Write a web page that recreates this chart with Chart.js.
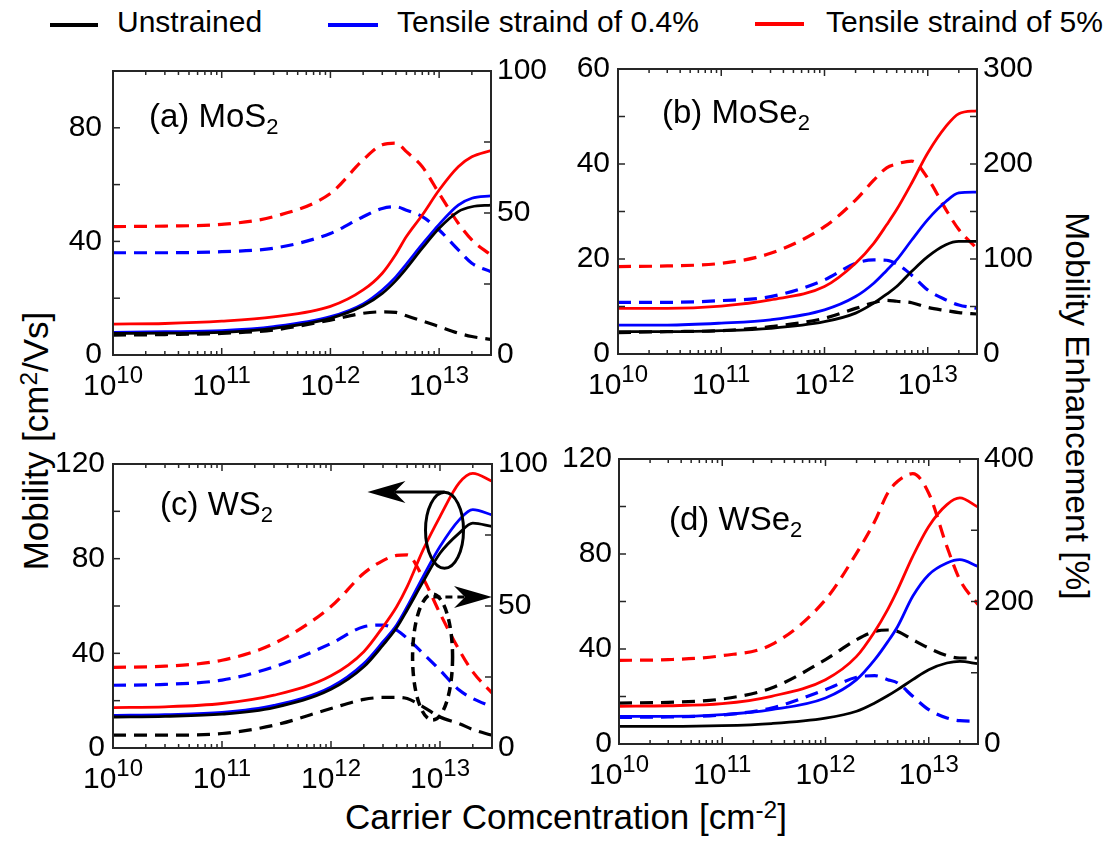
<!DOCTYPE html>
<html>
<head>
<meta charset="utf-8">
<script src="https://cdn.jsdelivr.net/npm/chart.js@4.4.1/dist/chart.umd.min.js"></script>
<style>
  body { margin: 0; background: #fff; }
  #page { position: relative; width: 1112px; height: 841px; overflow: hidden; background: #fff;
          font-family: "Liberation Sans", Arial, Helvetica, sans-serif; color: #000; }
  canvas { position: absolute; }
  .txt { position: absolute; white-space: nowrap; line-height: 1; }
  .sup { position: relative; top: -0.45em; font-size: 0.7em; }
  .swatch { position: absolute; height: 3.5px; }
</style>
</head>
<body>
<div id="page">
  <!-- legend -->
  <div class="swatch" style="left:50px; top:23px; width:48px; background:#000;"></div>
  <div class="txt" style="left:117px; top:7px; font-size:30px;">Unstrained</div>
  <div class="swatch" style="left:328px; top:23px; width:50px; background:#0000ff;"></div>
  <div class="txt" style="left:397px; top:7px; font-size:30px;">Tensile straind of 0.4%</div>
  <div class="swatch" style="left:755px; top:22px; width:49px; background:#ff0000;"></div>
  <div class="txt" style="left:826px; top:7px; font-size:30px;">Tensile straind of 5%</div>

  <!-- axis titles -->
  <div class="txt" style="left:35px; top:441px; font-size:35px; transform:translate(-50%,-50%) rotate(-90deg);">Mobility [cm<span class="sup">2</span>/Vs]</div>
  <div class="txt" style="left:1077px; top:406px; font-size:33.5px; transform:translate(-50%,-50%) rotate(90deg);">Mobility Enhancement [%]</div>
  <div class="txt" style="left:566px; top:816px; font-size:35px; transform:translate(-50%,-50%);">Carrier Comcentration [cm<span class="sup">-2</span>]</div>

  <canvas id="panelA"></canvas>
  <canvas id="panelB"></canvas>
  <canvas id="panelC"></canvas>
  <canvas id="panelD"></canvas>
</div>
<script>
// carrier concentration grid [cm^-2]
const concentration = [1e10, 3e10, 1e11, 3e11, 1e12, 2e12, 3e12, 4e12, 5e12, 7e12, 1e13, 1.5e13, 2e13, 3e13];
const decades = [1e10, 1e11, 1e12, 1e13];

// (a) MoS2 - mobility [cm2/Vs] and enhancement [%]
const mos2Unstrained = [7.6, 7.7, 8.0, 9.4, 12.9, 17.3, 21.7, 26.2, 30.5, 37.6, 44.6, 50.5, 52.2, 52.8];
const mos2Strain04 = [8.0, 8.2, 8.6, 10.0, 13.5, 18.0, 22.9, 27.5, 32.0, 39.0, 46.0, 52.8, 55.2, 56.0];
const mos2Strain5 = [10.9, 11.1, 11.9, 13.4, 17.1, 22.9, 28.8, 35.5, 41.7, 49.3, 58.1, 66.3, 69.8, 72.0];
const mos2EnhUnstrained = [7.0, 7.2, 7.6, 8.8, 12.3, 14.7, 15.2, 15.0, 13.8, 12.0, 10.0, 7.7, 6.5, 5.5];
const mos2EnhStrain04 = [36.0, 36.0, 36.4, 37.6, 42.8, 48.7, 51.6, 52.2, 51.0, 48.7, 44.0, 37.0, 32.3, 29.3];
const mos2EnhStrain5 = [45.2, 45.4, 46.0, 48.7, 56.9, 68.7, 74.0, 74.6, 71.6, 66.3, 56.9, 46.4, 40.5, 35.2];

// (b) MoSe2
const mose2Unstrained = [4.7, 4.7, 4.9, 5.4, 6.8, 8.6, 10.7, 12.6, 14.2, 17.4, 20.5, 23.0, 23.7, 23.7];
const mose2Strain04 = [6.1, 6.1, 6.5, 7.2, 9.3, 12.1, 14.9, 17.6, 19.8, 24.0, 28.3, 32.1, 33.9, 34.1];
const mose2Strain5 = [9.6, 9.6, 10.1, 11.4, 14.2, 19.1, 23.3, 27.2, 30.4, 36.0, 42.3, 47.9, 50.6, 51.2];
const mose2EnhUnstrained = [22.5, 23.5, 24.6, 28.8, 37.6, 48.0, 54.0, 56.5, 55.5, 54.0, 49.0, 45.7, 43.6, 42.1];
const mose2EnhStrain04 = [54.4, 54.4, 56.2, 60.4, 78.0, 95.5, 99.0, 98.7, 94.8, 83.0, 67.4, 57.0, 51.6, 48.1];
const mose2EnhStrain5 = [92.0, 92.7, 95.5, 106, 134, 162, 183, 196, 200, 203, 185, 152, 131, 111];

// (c) WS2
const ws2Unstrained = [13.1, 13.4, 14.3, 17.1, 24.8, 34.3, 43.5, 50.8, 58.3, 70.3, 82.3, 90.8, 95.0, 93.6];
const ws2Strain04 = [13.8, 14.1, 15.0, 18.0, 25.8, 35.7, 44.9, 52.0, 59.7, 72.4, 85.1, 96.4, 100.7, 98.5];
const ws2Strain5 = [17.1, 17.4, 18.8, 22.3, 30.5, 40.7, 51.2, 59.7, 68.2, 83.7, 97.8, 112.0, 116.0, 112.7];
const ws2EnhUnstrained = [4.5, 4.5, 5.1, 8.0, 13.9, 17.1, 17.8, 17.8, 17.4, 14.5, 10.9, 8.6, 6.5, 4.5];
const ws2EnhStrain04 = [22.1, 22.4, 23.9, 28.6, 36.8, 42.7, 43.3, 41.5, 38.6, 33.3, 27.4, 20.4, 17.4, 14.5];
const ws2EnhStrain5 = [28.4, 28.8, 30.9, 36.8, 49.8, 61.5, 66.0, 67.8, 68.0, 59.8, 47.4, 34.5, 26.8, 19.4];

// (d) WSe2
const wse2Unstrained = [7.4, 7.4, 7.7, 8.6, 10.9, 13.8, 17.3, 20.3, 22.9, 27.1, 31.3, 34.1, 34.8, 33.8];
const wse2Strain04 = [11.6, 11.6, 12.4, 14.5, 19.4, 27.1, 35.5, 43.0, 49.5, 62.2, 71.3, 76.2, 77.6, 74.8];
const wse2Strain5 = [15.9, 16.1, 17.0, 20.1, 27.1, 36.9, 47.4, 56.6, 65.0, 79.0, 91.6, 100.8, 103.6, 99.8];
const wse2EnhUnstrained = [57.5, 58.5, 63.2, 78.6, 118.4, 146.4, 158, 160, 158, 146.4, 134.7, 124, 120.7, 120.7];
const wse2EnhStrain04 = [37.4, 37.9, 40.7, 50.5, 76.3, 93.6, 95.9, 90.3, 85.6, 66.9, 48.2, 36.5, 32.7, 31.8];
const wse2EnhStrain5 = [117.4, 118.4, 124, 139.4, 202.6, 268, 312.5, 352, 368.7, 379.4, 352, 277, 230.6, 195.6];

const FONT = '"Liberation Sans", Arial, Helvetica, sans-serif';
const BLACK = '#000000', BLUE = '#0000ff', RED = '#ff0000';
const AXIS_COLOR = '#262626';

function pts(values) {
  return concentration.map((c, i) => ({ x: c, y: values[i] }));
}

function curve(values, color, dashed) {
  return {
    data: pts(values),
    borderColor: color,
    borderWidth: dashed ? 3.2 : 2.8,
    borderDash: dashed ? [13, 8] : [],
    yAxisID: dashed ? 'yEnh' : 'yMob',
    pointRadius: 0,
    fill: false,
    cubicInterpolationMode: 'monotone',
  };
}

function arrowHead(ctx, tipX, tipY, dir) {
  // dir = -1 points left, +1 points right
  ctx.beginPath();
  ctx.moveTo(tipX, tipY);
  ctx.lineTo(tipX - dir * 38, tipY - 11);
  ctx.lineTo(tipX - dir * 27, tipY);
  ctx.lineTo(tipX - dir * 38, tipY + 11);
  ctx.closePath();
  ctx.fill();
}

// box, inward ticks, 10^n labels, panel label and annotations
const panelDecor = {
  id: 'panelDecor',
  afterDatasetsDraw(chart, args, opts) {
    const ctx = chart.ctx;
    const { left, right, top, bottom } = chart.chartArea;
    const xs = chart.scales.x, yl = chart.scales.yMob, yr = chart.scales.yEnh;
    const seg = (x1, y1, x2, y2) => { ctx.beginPath(); ctx.moveTo(x1, y1); ctx.lineTo(x2, y2); ctx.stroke(); };

    ctx.save();
    ctx.strokeStyle = AXIS_COLOR;
    ctx.lineWidth = 1.5;
    for (let e = 10; e <= 13; e++) {
      for (let m = 1; m <= 9; m++) {
        const v = m * Math.pow(10, e);
        if (v > xs.max) break;
        const px = xs.getPixelForValue(v);
        if (px <= left + 1 || px >= right - 1) continue;
        const len = m === 1 ? 7 : 4;
        seg(px, bottom, px, bottom - len);
        seg(px, top, px, top + len);
      }
    }
    yl.ticks.forEach(t => { const py = yl.getPixelForValue(t.value); seg(left, py, left + 7, py); });
    yr.ticks.forEach(t => { const py = yr.getPixelForValue(t.value); seg(right, py, right - 7, py); });
    ctx.lineWidth = 2;
    ctx.strokeRect(left, top, right - left, bottom - top);

    // x tick labels 10^n
    ctx.fillStyle = '#000';
    ctx.textAlign = 'left';
    ctx.textBaseline = 'alphabetic';
    decades.forEach(d => {
      const px = xs.getPixelForValue(d);
      const exp = String(Math.round(Math.log10(d)));
      ctx.font = '30px ' + FONT;
      const wb = ctx.measureText('10').width;
      ctx.font = '24px ' + FONT;
      const we = ctx.measureText(exp).width;
      const x0 = px - (wb + we) / 2;
      ctx.font = '30px ' + FONT;
      ctx.fillText('10', x0, bottom + 40);
      ctx.font = '24px ' + FONT;
      ctx.fillText(exp, x0 + wb, bottom + 28);
    });

    // panel label with subscript
    const lab = opts.label;
    ctx.font = '33px ' + FONT;
    ctx.fillText(lab.text, left + lab.dx, top + lab.dy);
    const w = ctx.measureText(lab.text).width;
    ctx.font = '22px ' + FONT;
    ctx.fillText(lab.sub, left + lab.dx + w, top + lab.dy + 7);

    // annotation ellipses and arrows
    (opts.ellipses || []).forEach(el => {
      const sc = chart.scales[el.axis];
      ctx.lineWidth = el.width;
      ctx.strokeStyle = '#000';
      ctx.setLineDash(el.dash);
      ctx.beginPath();
      ctx.ellipse(xs.getPixelForValue(el.x), sc.getPixelForValue(el.y), el.rx, el.ry, 0, 0, Math.PI * 2);
      ctx.stroke();
    });
    (opts.arrows || []).forEach(ar => {
      const sc = chart.scales[ar.axis];
      const x1 = xs.getPixelForValue(ar.from);
      const x2 = xs.getPixelForValue(ar.to);
      const py = sc.getPixelForValue(ar.y);
      const dir = x2 > x1 ? 1 : -1;
      ctx.lineWidth = 3;
      ctx.strokeStyle = '#000';
      ctx.fillStyle = '#000';
      ctx.setLineDash(ar.dash);
      seg(x1, py, x2 - dir * 27, py);
      ctx.setLineDash([]);
      arrowHead(ctx, x2, py, dir);
    });
    ctx.restore();
  },
};

function makePanel(id, rect, cfg) {
  const padX = 110, padTop = 30, padBottom = 60;
  const canvas = document.getElementById(id);
  canvas.width = rect.w + 2 * padX;
  canvas.height = rect.h + padTop + padBottom;
  canvas.style.left = (rect.x - padX) + 'px';
  canvas.style.top = (rect.y - padTop) + 'px';

  const tickFont = { family: FONT, size: 30 };
  new Chart(canvas, {
    type: 'line',
    data: {
      datasets: [
        curve(cfg.series[0], BLACK, false),
        curve(cfg.series[1], BLUE, false),
        curve(cfg.series[2], RED, false),
        curve(cfg.series[3], BLACK, true),
        curve(cfg.series[4], BLUE, true),
        curve(cfg.series[5], RED, true),
      ],
    },
    options: {
      responsive: false,
      animation: false,
      devicePixelRatio: 1,
      layout: { padding: { left: 0, right: 0, top: padTop, bottom: 0 } },
      plugins: {
        legend: { display: false },
        tooltip: { enabled: false },
        panelDecor: { label: cfg.label, ellipses: cfg.ellipses, arrows: cfg.arrows },
      },
      scales: {
        x: {
          type: 'logarithmic',
          min: 1e10,
          max: 3e13,
          grid: { display: false, drawTicks: false },
          border: { display: false },
          ticks: { display: false },
          afterFit: s => { s.height = padBottom; },
        },
        yMob: {
          position: 'left',
          min: 0,
          max: cfg.mobMax,
          grid: { display: false, drawTicks: false },
          border: { display: false },
          ticks: {
            stepSize: cfg.mobStep,
            padding: cfg.leftPad,
            font: tickFont,
            color: '#000',
            callback: v => (v % cfg.mobLabelStep === 0 ? v : ''),
          },
          afterFit: s => { s.width = padX; },
        },
        yEnh: {
          position: 'right',
          min: 0,
          max: cfg.enhMax,
          grid: { display: false, drawTicks: false },
          border: { display: false },
          ticks: {
            stepSize: cfg.enhStep,
            padding: 6,
            font: tickFont,
            color: '#000',
            callback: v => (v % cfg.enhLabelStep === 0 ? v : ''),
          },
          afterFit: s => { s.width = padX; },
        },
      },
    },
    plugins: [panelDecor],
  });
}

makePanel('panelA', { x: 113, y: 71, w: 378, h: 284 }, {
  series: [mos2Unstrained, mos2Strain04, mos2Strain5, mos2EnhUnstrained, mos2EnhStrain04, mos2EnhStrain5],
  mobMax: 100, mobStep: 20, mobLabelStep: 40,
  enhMax: 100, enhStep: 25, enhLabelStep: 50,
  leftPad: 11,
  label: { text: '(a) MoS', sub: '2', dx: 36, dy: 56 },
});

makePanel('panelB', { x: 618, y: 69, w: 359, h: 285 }, {
  series: [mose2Unstrained, mose2Strain04, mose2Strain5, mose2EnhUnstrained, mose2EnhStrain04, mose2EnhStrain5],
  mobMax: 60, mobStep: 10, mobLabelStep: 20,
  enhMax: 300, enhStep: 50, enhLabelStep: 100,
  leftPad: 8,
  label: { text: '(b) MoSe', sub: '2', dx: 44, dy: 54 },
});

makePanel('panelC', { x: 113, y: 464, w: 379, h: 284 }, {
  series: [ws2Unstrained, ws2Strain04, ws2Strain5, ws2EnhUnstrained, ws2EnhStrain04, ws2EnhStrain5],
  mobMax: 120, mobStep: 20, mobLabelStep: 40,
  enhMax: 100, enhStep: 25, enhLabelStep: 50,
  leftPad: 8,
  label: { text: '(c) WS', sub: '2', dx: 47, dy: 51 },
  ellipses: [
    { x: 1.1e13, y: 92, axis: 'yMob', rx: 19, ry: 38, dash: [], width: 3 },
    { x: 8.55e12, y: 32, axis: 'yEnh', rx: 20, ry: 63, dash: [9, 6], width: 3.5 },
  ],
  arrows: [
    { from: 1.1e13, to: 2.16e12, y: 108.2, axis: 'yMob', dash: [] },
    { from: 8.7e12, to: 3e13, y: 53.2, axis: 'yEnh', dash: [7, 5] },
  ],
});

makePanel('panelD', { x: 619, y: 459, w: 359, h: 285 }, {
  series: [wse2Unstrained, wse2Strain04, wse2Strain5, wse2EnhUnstrained, wse2EnhStrain04, wse2EnhStrain5],
  mobMax: 120, mobStep: 20, mobLabelStep: 40,
  enhMax: 400, enhStep: 100, enhLabelStep: 200,
  leftPad: 7,
  label: { text: '(d) WSe', sub: '2', dx: 50, dy: 71 },
});
</script>
</body>
</html>
